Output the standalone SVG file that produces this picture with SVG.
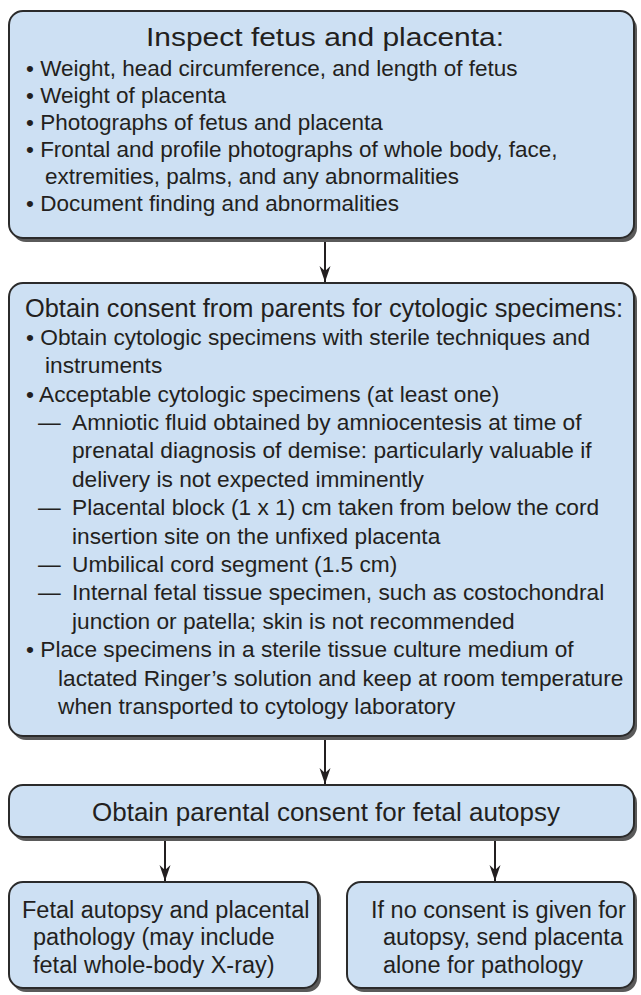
<svg xmlns="http://www.w3.org/2000/svg" width="641" height="995" viewBox="0 0 641 995">
<defs>
<style>
.box{fill:#cde0f3;stroke:#2b2b2b;stroke-width:2}
.sh{fill:#5a5a5a}
.t{font-family:"Liberation Sans",Arial,sans-serif;fill:#231f20;font-size:22.5px}
.m{font-size:22.7px}
.h{font-size:25.5px}
.b{font-size:23.5px}
.c{text-anchor:middle}
.ln{stroke:#231f20;stroke-width:2;fill:none}
</style>
<marker id="ah" viewBox="-16 -7 17 14" refX="0" refY="0" markerWidth="17" markerHeight="14" markerUnits="userSpaceOnUse" orient="auto">
<path d="M0,0 L-16,-5.5 L-11,0 L-16,5.5 Z" fill="#231f20"/>
</marker>
</defs>

<g id="connectors">
<line class="ln" x1="325" y1="240" x2="325" y2="282" marker-end="url(#ah)"/>
<line class="ln" x1="325" y1="740" x2="325" y2="784" marker-end="url(#ah)"/>
<line class="ln" x1="165" y1="841" x2="165" y2="881" marker-end="url(#ah)"/>
<line class="ln" x1="495" y1="841" x2="495" y2="881" marker-end="url(#ah)"/>
</g>

<g id="inspect">
<rect class="sh" x="12" y="15" width="625" height="227" rx="14"/>
<rect class="box" x="9" y="11" width="625" height="227" rx="14"/>
<text class="t h c" x="325" y="46" textLength="358" lengthAdjust="spacingAndGlyphs">Inspect fetus and placenta:</text>
<text class="t" x="26" y="76">• Weight, head circumference, and length of fetus</text>
<text class="t" x="26" y="103">• Weight of placenta</text>
<text class="t" x="26" y="130">• Photographs of fetus and placenta</text>
<text class="t" x="26" y="157">• Frontal and profile photographs of whole body, face,</text>
<text class="t" x="45" y="184">extremities, palms, and any abnormalities</text>
<text class="t" x="26" y="211">• Document finding and abnormalities</text>
</g>

<g id="consent-cyto">
<rect class="sh" x="12" y="287" width="625" height="453" rx="14"/>
<rect class="box" x="9" y="283" width="625" height="453" rx="14"/>
<text class="t h" x="25" y="317" textLength="598" lengthAdjust="spacingAndGlyphs">Obtain consent from parents for cytologic specimens:</text>
<text class="t m" x="26" y="345">• Obtain cytologic specimens with sterile techniques and</text>
<text class="t m" x="45" y="373">instruments</text>
<text class="t m" x="26" y="402">• Acceptable cytologic specimens (at least one)</text>
<text class="t m" y="430"><tspan x="38">—</tspan><tspan x="72">Amniotic fluid obtained by amniocentesis at time of</tspan></text>
<text class="t m" x="72" y="458">prenatal diagnosis of demise: particularly valuable if</text>
<text class="t m" x="72" y="487">delivery is not expected imminently</text>
<text class="t m" y="515"><tspan x="38">—</tspan><tspan x="72">Placental block (1 x 1) cm taken from below the cord</tspan></text>
<text class="t m" x="72" y="544">insertion site on the unfixed placenta</text>
<text class="t m" y="572"><tspan x="38">—</tspan><tspan x="72">Umbilical cord segment (1.5 cm)</tspan></text>
<text class="t m" y="600"><tspan x="38">—</tspan><tspan x="72">Internal fetal tissue specimen, such as costochondral</tspan></text>
<text class="t m" x="72" y="629">junction or patella; skin is not recommended</text>
<text class="t m" x="26" y="657">• Place specimens in a sterile tissue culture medium of</text>
<text class="t m" x="58" y="686">lactated Ringer’s solution and keep at room temperature</text>
<text class="t m" x="58" y="714">when transported to cytology laboratory</text>
</g>

<g id="consent-autopsy">
<rect class="sh" x="12" y="789" width="625" height="52" rx="14"/>
<rect class="box" x="9" y="785" width="625" height="52" rx="14"/>
<text class="t h c" x="326" y="821" textLength="468" lengthAdjust="spacingAndGlyphs">Obtain parental consent for fetal autopsy</text>
</g>

<g id="autopsy">
<rect class="sh" x="12" y="886" width="309" height="106" rx="14"/>
<rect class="box" x="9" y="882" width="309" height="106" rx="14"/>
<text class="t b" x="22" y="918">Fetal autopsy and placental</text>
<text class="t b" x="33" y="945">pathology (may include</text>
<text class="t b" x="33" y="973">fetal whole-body X-ray)</text>
</g>

<g id="no-consent">
<rect class="sh" x="350" y="886" width="287" height="106" rx="14"/>
<rect class="box" x="347" y="882" width="287" height="106" rx="14"/>
<text class="t b" x="371" y="918">If no consent is given for</text>
<text class="t b" x="383" y="945">autopsy, send placenta</text>
<text class="t b" x="383" y="973">alone for pathology</text>
</g>
</svg>
